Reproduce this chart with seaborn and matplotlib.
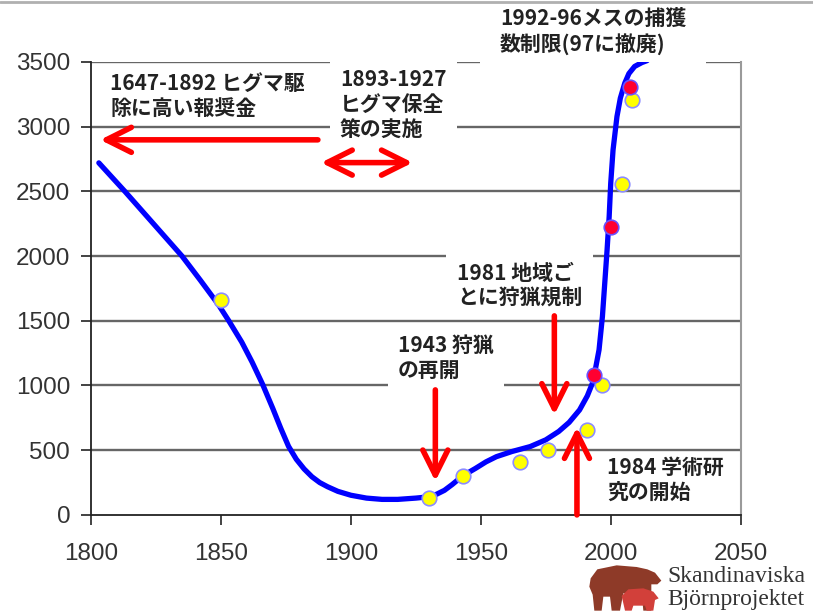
import numpy as np
import pandas as pd
import seaborn as sns
import matplotlib.pyplot as plt
from matplotlib.patches import Polygon

# trend curve
curve_year = [1803, 1813, 1824, 1835, 1842, 1849, 1853, 1858, 1862, 1866, 1870, 1873,
              1876, 1879, 1882, 1885, 1888, 1891, 1895, 1900, 1906, 1912, 1918, 1925,
              1930, 1933, 1936, 1939, 1942, 1945, 1948, 1952, 1956, 1962, 1969,
              1975, 1980, 1984, 1988, 1991, 1993.2, 1995.5, 1996.8, 1997.7, 1998.6,
              1999.4, 2000, 2000.9, 2002.4, 2003.7, 2005.4, 2007, 2009.2, 2012, 2014]
curve_bears = [2720, 2500, 2250, 2000, 1815, 1625, 1500, 1335, 1180, 1010, 820, 670,
               530, 430, 355, 295, 250, 218, 182, 152, 130, 120, 120, 130,
               140, 160, 190, 235, 285, 325, 360, 410, 450, 490, 528,
               580, 645, 715, 811, 920, 1030, 1275, 1532, 1790, 2048,
               2305, 2563, 2821, 3078, 3220, 3336, 3410, 3465, 3495, 3510]

# population estimates
yellow_year = [1850, 1930, 1943, 1965, 1976, 1991, 1996.5, 2004.5, 2008]
yellow_bears = [1660, 130, 300, 410, 500, 655, 1005, 2558, 3205]
red_year = [1993.5, 2000, 2007.3]
red_bears = [1082, 2226, 3308]

tick_years = [1800, 1850, 1900, 1950, 2000, 2050]
tick_bears = [0, 500, 1000, 1500, 2000, 2500, 3000, 3500]

sns.set_theme(style='white')
plt.rcParams['font.family'] = ['Noto Sans CJK JP', 'DejaVu Sans']

fig = plt.figure(figsize=(8.13, 6.13), dpi=100)
ax = fig.add_axes([0.112, 0.16, 0.799, 0.739])

for yv in tick_bears[1:]:
    ax.axhline(yv, color='#666666', lw=1.7, zorder=0.5)

curve = pd.DataFrame({'year': curve_year, 'bears': curve_bears})
sns.lineplot(data=curve, x='year', y='bears', color='#0000ff', lw=3.8,
             sort=False, ax=ax, zorder=3)
sns.scatterplot(x=yellow_year, y=yellow_bears, color='#ffff00', edgecolor='#8c8cff',
                linewidth=1.2, s=110, ax=ax, zorder=4)
sns.scatterplot(x=red_year, y=red_bears, color='#ff0030', edgecolor='#6a50ff',
                linewidth=1.2, s=110, ax=ax, zorder=4)

ax.set_xlim(1800, 2050)
ax.set_ylim(0, 3500)
ax.set_xticks(tick_years)
ax.set_yticks(tick_bears)
ax.set_xlabel('')
ax.set_ylabel('')
for lab in ax.get_xticklabels() + ax.get_yticklabels():
    lab.set_fontfamily('Liberation Sans')
    lab.set_fontsize(17.5)
    lab.set_color('#333333')
ax.tick_params(axis='x', direction='out', length=7, width=1.2, color='#222222', pad=13, bottom=True)
ax.tick_params(axis='y', direction='out', length=7, width=1.2, color='#222222', pad=8, left=True)

for side in ['left', 'bottom']:
    ax.spines[side].set_color('#222222')
    ax.spines[side].set_linewidth(1.3)
ax.spines['top'].set_visible(False)
ax.spines['right'].set_color('#9a9a9a')
ax.spines['right'].set_linewidth(1.5)

# arrows
red = dict(color='#ff0000', lw=4, mutation_scale=45, shrinkA=0, shrinkB=0)
ax.annotate('', xy=(1803.5, 2898), xytext=(1887.3, 2898),
            arrowprops=dict(arrowstyle='->', **red), zorder=5)
ax.annotate('', xy=(1888.5, 2722), xytext=(1923.8, 2722),
            arrowprops=dict(arrowstyle='<->', **red), zorder=5)
ax.annotate('', xy=(1932.5, 260), xytext=(1932.5, 966),
            arrowprops=dict(arrowstyle='->', **red), zorder=5)
ax.annotate('', xy=(1978.3, 773), xytext=(1978.3, 1538),
            arrowprops=dict(arrowstyle='->', **red), zorder=5)
ax.annotate('', xy=(1987, 678), xytext=(1987, 0),
            arrowprops=dict(arrowstyle='->', **red), zorder=5, annotation_clip=False)

# labels
txt = dict(fontsize=15, fontweight='bold', color='#222222', ha='left', va='center',
           linespacing=1.25, clip_on=False)
box = dict(boxstyle='square,pad=0.5', fc='white', ec='none')
wide_box = dict(boxstyle='square,pad=0.95', fc='white', ec='none')
ax.text(1807.3, 3238, '1647-1892 ヒグマ駆\n除に高い報奨金', zorder=2, **txt)
ax.text(1895.8, 3168, '1893-1927\nヒグマ保全\n策の実施', bbox=box, zorder=2, **txt)
ax.text(1957.3, 3733, '1992-96メスの捕獲\n数制限(97に撤廃)', bbox=wide_box, zorder=2, **txt)
ax.text(1940.8, 1770, '1981 地域ご\nとに狩猟規制', bbox=box, zorder=2, **txt)
ax.text(1918.1, 1217, '1943 狩猟\nの再開', bbox=box, zorder=2, **txt)
ax.text(1998.5, 270, '1984 学術研\n究の開始', zorder=2, **txt)

# top border line of the picture
fig.add_artist(plt.Line2D([0, 1], [0.996, 0.996], color='#b0b0b0', lw=2,
                          transform=fig.transFigure))

# logo
def to_fig(pts):
    return [((540 + zx / 3) / 813, 1 - (520 + zy / 3) / 613) for zx, zy in pts]

bear = [(152, 175), (172, 148), (230, 136), (290, 141), (322, 148), (345, 158),
        (364, 182), (352, 193), (334, 193), (334, 272), (310, 272), (305, 220),
        (250, 220), (240, 272), (215, 272), (210, 230), (190, 230), (185, 272),
        (163, 272), (158, 224), (148, 200)]
cub = [(245, 228), (265, 208), (310, 205), (340, 215), (356, 235), (345, 240),
       (340, 272), (320, 272), (315, 257), (280, 257), (275, 272), (255, 272), (250, 250)]
fig.add_artist(Polygon(to_fig(bear), closed=True, fc='#8e3a28', ec='none',
                       transform=fig.transFigure))
fig.add_artist(Polygon(to_fig(cub), closed=True, fc='#d2403a', ec='none',
                       transform=fig.transFigure))
fig.text(667 / 813, 1 - 577 / 613, 'Skandinaviska', family='Liberation Serif',
         fontsize=17, color='#333333', va='center', ha='left')
fig.text(667 / 813, 1 - 599 / 613, 'Björnprojektet', family='Liberation Serif',
         fontsize=17, color='#333333', va='center', ha='left')

fig.savefig('out.png', dpi=100)
